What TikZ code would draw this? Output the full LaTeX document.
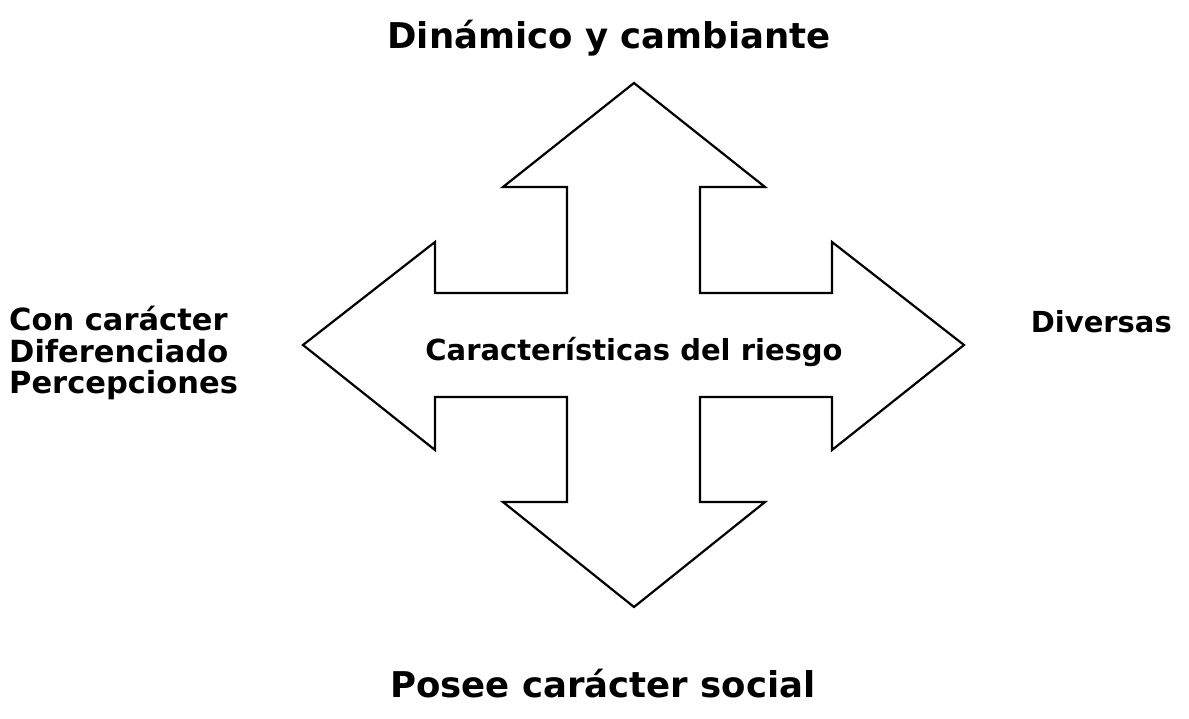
\documentclass[tikz,border=0pt]{standalone}
\usepackage{fontspec}
\setmainfont{DejaVu Sans}
\begin{document}
\begin{tikzpicture}[x=1pt,y=-1pt,
  shapeline/.style={draw=black,line width=2.2pt,line join=miter},
  titletext/.style={font=\bfseries\fontsize{35.5}{38}\selectfont,inner sep=0pt},
  bodytext/.style={font=\bfseries\fontsize{29}{31.5}\selectfont,inner sep=0pt,align=left}]
\useasboundingbox (0,0) rectangle (1189,719);
\draw[shapeline] (634,83) -- (765,187) -- (700,187) -- (700,293) -- (832,293) -- (832,242)
  -- (964,345) -- (832,450) -- (832,397) -- (700,397) -- (700,502) -- (765,502)
  -- (634,607) -- (503,502) -- (567,502) -- (567,397) -- (435,397) -- (435,450)
  -- (303,345) -- (435,242) -- (435,293) -- (567,293) -- (567,187) -- (503,187) -- cycle;
\node[titletext] (top) at (609,38) {Dinámico y cambiante};
\node[titletext] (bottom) at (603,684) {Posee carácter social};
\node[bodytext] (center) at (634,352) {Características del riesgo};
\node[bodytext,anchor=west,font=\bfseries\fontsize{30.5}{31.5}\selectfont] (left) at (9,353) {Con carácter\\Diferenciado\\Percepciones};
\node[bodytext,anchor=east] (right) at (1172,322) {Diversas};
\end{tikzpicture}
\end{document}
